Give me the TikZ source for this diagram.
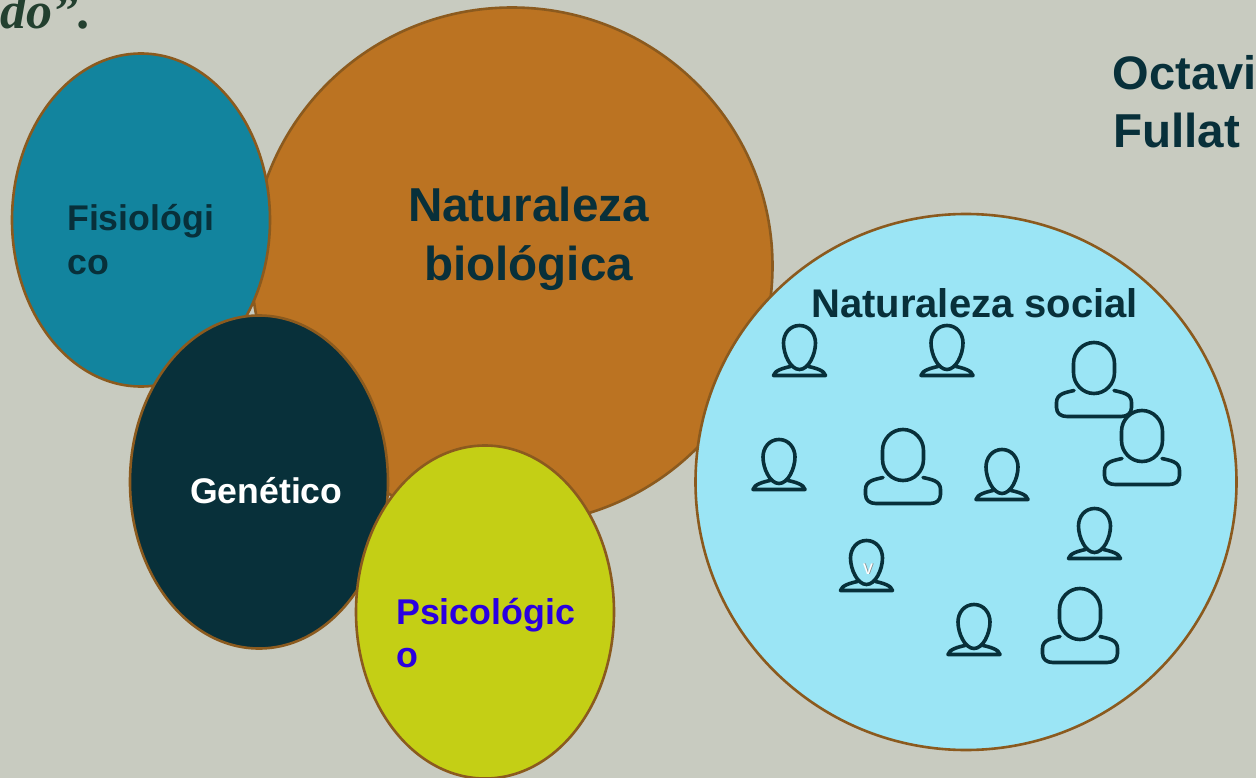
\documentclass[tikz,border=0pt]{standalone}
\usepackage{fontspec}
\setmainfont{Liberation Sans}
\newfontfamily\serifbi{Liberation Serif}
\usetikzlibrary{shapes.geometric}
\definecolor{bgc}{HTML}{C8CBC0}
\definecolor{edgec}{HTML}{8B5A1E}
\definecolor{orangec}{HTML}{BB7322}
\definecolor{tealc}{HTML}{12849E}
\definecolor{darkc}{HTML}{08303A}
\definecolor{limec}{HTML}{C4CF15}
\definecolor{skyc}{HTML}{9BE5F5}
\definecolor{bluec}{HTML}{2A00E0}
\definecolor{greenc}{HTML}{23402F}
\tikzset{
  x=1pt,y=-1pt,
  blob/.style={ellipse,draw=edgec,line width=2.6pt,inner sep=0pt,outer sep=0pt},
  lbl/.style={font=\bfseries\fontsize{#1}{#1}\selectfont,inner sep=0pt,anchor=base west,text=darkc},
  lblc/.style={font=\bfseries\fontsize{#1}{#1}\selectfont,inner sep=0pt,anchor=base,text=darkc},
  figline/.style={draw=darkc,line width=3.6pt,line cap=round,line join=round},
  smallperson/.pic={
    \draw[figline] (0,-51) .. controls (9.5,-51) and (16,-43) .. (16,-33.5) .. controls (16,-22) and (9,-7) .. (0,-7) .. controls (-9,-7) and (-16,-22) .. (-16,-33.5) .. controls (-16,-43) and (-9.5,-51) .. (0,-51) -- cycle;
    \draw[figline] (-9,-10) .. controls (-16,-8.5) and (-25,-6) .. (-26,-1) -- (26,-1) .. controls (25,-6) and (16,-8.5) .. (9,-10);
  },
  largeperson/.pic={
    \draw[figline] (0,-75) .. controls (11.3,-75) and (20.5,-65.5) .. (20.5,-54) -- (20.5,-45) .. controls (20.5,-33.5) and (11.3,-24) .. (0,-24) .. controls (-11.3,-24) and (-20.5,-33.5) .. (-20.5,-45) -- (-20.5,-54) .. controls (-20.5,-65.5) and (-11.3,-75) .. (0,-75) -- cycle;
    \draw[figline] (-20,-27) .. controls (-28,-25) and (-37.5,-24) .. (-37.5,-15) -- (-37.5,-10) .. controls (-37.5,-4) and (-33,-1) .. (-27,-1) -- (27,-1) .. controls (33,-1) and (37.5,-4) .. (37.5,-10) -- (37.5,-15) .. controls (37.5,-24) and (28,-25) .. (20,-27);
  },
}
\begin{document}
\begin{tikzpicture}
\useasboundingbox (0,0) rectangle (1256,778);
\clip (0,0) rectangle (1256,778);
\fill[bgc] (0,0) rectangle (1256,778);

\node[inner sep=0pt,anchor=base east,text=greenc,font=\serifbi\bfseries\itshape\fontsize{52}{52}\selectfont] (quote) at (92,29) {ado”.};

\node[blob,fill=orangec,minimum width=521pt,minimum height=517pt] (bio) at (512,266) {};
\node[blob,fill=tealc,minimum width=258pt,minimum height=333pt] (fis) at (141,220) {};
\node[blob,fill=darkc,minimum width=258pt,minimum height=333pt] (gen) at (259,482) {};
\node[blob,fill=limec,minimum width=258pt,minimum height=333pt] (psi) at (485,612) {};
\node[blob,fill=skyc,minimum width=541pt,minimum height=536pt] (soc) at (966,482) {};

\node[lblc=47.6] (t1) at (528.5,222) {Naturaleza};
\node[lblc=47.6] (t2) at (528.5,280) {biológica};
\node[lbl=35.7] (t3) at (67,231) {Fisiológi};
\node[lbl=35.7] (t4) at (67,274) {co};
\node[lbl=35.6,text=white] (t5) at (190,503) {Genético};
\node[lbl=35.8,text=bluec] (t6) at (396,624) {Psicológic};
\node[lbl=35.8,text=bluec] (t7) at (396,667) {o};
\node[lbl=40] (t8) at (811,317) {Naturaleza social};
\node[lbl=47] (t9) at (1112.5,90) {Octavi};
\node[lbl=47.6] (t10) at (1113,148) {Fullat};

\pic at (799.5,376.5) {smallperson};
\pic at (947,376.5) {smallperson};
\pic at (779,490.5) {smallperson};
\pic at (1002,500.5) {smallperson};
\pic at (1094.5,559.5) {smallperson};
\pic at (866.5,591.5) {smallperson};
\pic at (974,655.5) {smallperson};
\pic at (903,504.5) {largeperson};
\pic at (1094,417.5) {largeperson};
\pic at (1142,485.5) {largeperson};
\pic at (1080,663.5) {largeperson};

\node[inner sep=0pt,anchor=base,text=gray,font=\fontsize{20}{20}\selectfont] (vs) at (868.8,574.8) {v};
\node[inner sep=0pt,anchor=base,text=white,font=\fontsize{20}{20}\selectfont] (v) at (868,574) {v};
\end{tikzpicture}
\end{document}
